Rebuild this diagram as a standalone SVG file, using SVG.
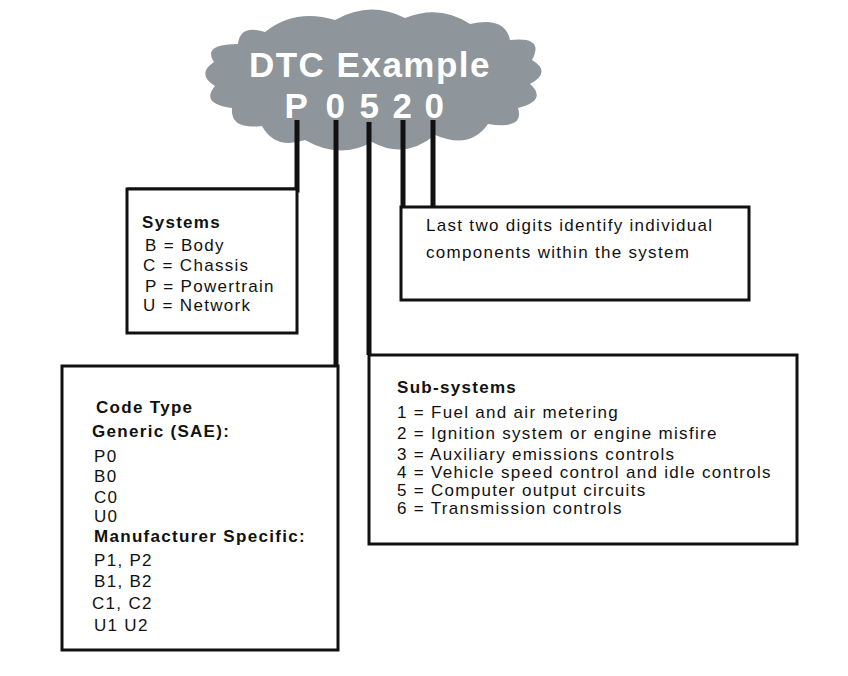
<svg xmlns="http://www.w3.org/2000/svg" width="848" height="676" viewBox="0 0 848 676">
<style>
.box{fill:#fff;stroke:#111;stroke-width:3}
.ln{stroke:#111;stroke-width:5;fill:none}
text{font-family:"Liberation Sans",Arial,sans-serif;fill:#111;font-size:17px;letter-spacing:1.3px}
.b{font-weight:bold}
.t{fill:#fff;font-weight:bold;font-size:35px;letter-spacing:1.5px}
</style>
<rect width="848" height="676" fill="#fff"/>
<g id="cloud">
<path fill="#8e969c" d="M265,32 Q295,8 335,20 Q370,0 405,18 Q440,4 470,24 Q505,16 510,40 Q545,36 532,60 Q552,72 530,84 Q548,100 518,108 Q525,130 488,124 Q470,150 435,135 Q405,160 372,142 Q340,160 305,140 Q275,150 262,126 Q230,130 232,108 Q200,104 215,86 Q196,74 214,62 Q202,44 238,44 Q240,24 265,32 Z"/>
<text x="370" y="77" text-anchor="middle" class="t">DTC Example</text>
<text x="297" y="118" text-anchor="middle" class="t">P</text>
<text x="336" y="118" text-anchor="middle" class="t">0</text>
<text x="370" y="118" text-anchor="middle" class="t">5</text>
<text x="403" y="118" text-anchor="middle" class="t">2</text>
<text x="435" y="118" text-anchor="middle" class="t">0</text>
</g>
<g id="connectors">
<path class="ln" d="M297,120 V190 H127"/>
<path class="ln" d="M336,120 V375"/>
<path class="ln" d="M369,122 V355"/>
<path class="ln" d="M403,120 V207"/>
<path class="ln" d="M433,120 V207"/>
</g>
<g id="systems">
<rect class="box" x="127" y="189" width="170" height="144"/>
<text x="142" y="228" class="b">Systems</text>
<text x="145" y="251">B = Body</text>
<text x="143" y="271">C = Chassis</text>
<text x="145" y="292">P = Powertrain</text>
<text x="143" y="311">U = Network</text>
</g>
<g id="digits">
<rect class="box" x="401" y="207" width="348" height="93"/>
<text x="426" y="231">Last two digits identify individual</text>
<text x="426" y="258">components within the system</text>
</g>
<g id="codetype">
<rect class="box" x="62" y="366" width="276" height="284"/>
<text x="96" y="413" class="b">Code Type</text>
<text x="92" y="437" class="b">Generic (SAE):</text>
<text x="94" y="462">P0</text>
<text x="94" y="482">B0</text>
<text x="94" y="503">C0</text>
<text x="94" y="522">U0</text>
<text x="94" y="542" class="b">Manufacturer Specific:</text>
<text x="94" y="566">P1, P2</text>
<text x="94" y="587">B1, B2</text>
<text x="92" y="609">C1, C2</text>
<text x="94" y="631">U1  U2</text>
</g>
<g id="subsystems">
<rect class="box" x="369" y="355" width="428" height="189"/>
<text x="397" y="393" class="b">Sub-systems</text>
<text x="397" y="418">1 = Fuel and air metering</text>
<text x="397" y="439">2 = Ignition system or engine misfire</text>
<text x="397" y="460">3 = Auxiliary emissions controls</text>
<text x="397" y="478">4 = Vehicle speed control and idle controls</text>
<text x="397" y="496">5 = Computer output circuits</text>
<text x="397" y="514">6 = Transmission controls</text>
</g>
</svg>
